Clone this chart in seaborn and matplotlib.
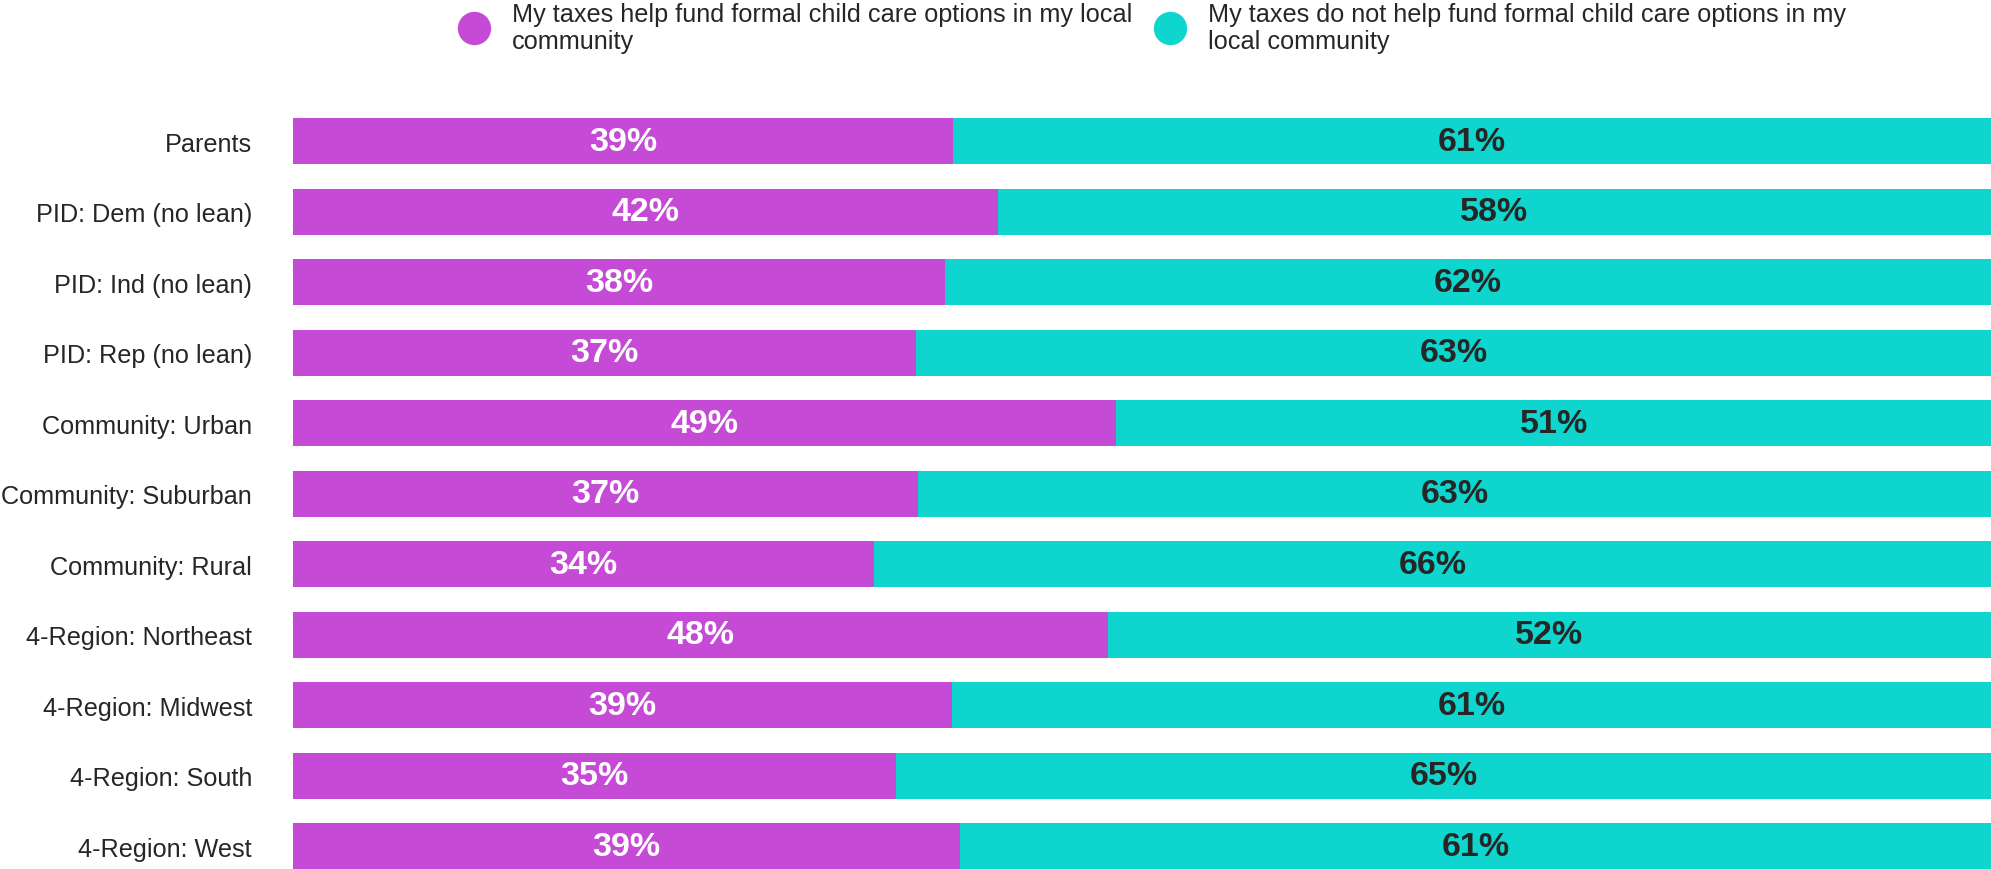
import matplotlib
matplotlib.use('Agg')
import matplotlib.pyplot as plt
from matplotlib.lines import Line2D
import seaborn as sns

# Groups (top to bottom)
categories = [
    "Parents",
    "PID: Dem (no lean)",
    "PID: Ind (no lean)",
    "PID: Rep (no lean)",
    "Community: Urban",
    "Community: Suburban",
    "Community: Rural",
    "4-Region: Northeast",
    "4-Region: Midwest",
    "4-Region: South",
    "4-Region: West",
]

# Share (%)
help_share = [38.9, 41.5, 38.4, 36.7, 48.5, 36.8, 34.2, 48.0, 38.8, 35.5, 39.3]
not_help_share = [61.1, 58.5, 61.6, 63.3, 51.5, 63.2, 65.8, 52.0, 61.2, 64.5, 60.7]

# Labels as printed on the bars
help_labels = ["39%", "42%", "38%", "37%", "49%", "37%", "34%", "48%", "39%", "35%", "39%"]
not_help_labels = ["61%", "58%", "62%", "63%", "51%", "63%", "66%", "52%", "61%", "65%", "61%"]

series_names = [
    "My taxes help fund formal child care options in my local\ncommunity",
    "My taxes do not help fund formal child care options in my\nlocal community",
]

PURPLE = "#C54BD7"
TEAL = "#0ED6CE"
DARK = "#262626"

sns.set_style("white")
plt.rcParams['font.family'] = ['Liberation Sans', 'DejaVu Sans']

fig = plt.figure(figsize=(19.91, 8.70), dpi=100)
ax = fig.add_axes([0.1471, 0.0, 0.8529, 0.877])

totals = [h + n for h, n in zip(help_share, not_help_share)]

# full-length teal bar, purple drawn on top of it
sns.barplot(x=totals, y=categories, color=TEAL, width=0.65, saturation=1,
            orient="h", linewidth=0, ax=ax)
sns.barplot(x=help_share, y=categories, color=PURPLE, width=0.65, saturation=1,
            orient="h", linewidth=0, ax=ax)

for i, (h, n) in enumerate(zip(help_share, not_help_share)):
    ax.text(h / 2, i, help_labels[i], ha='center', va='center',
            color='white', fontsize=24.5, fontweight='bold')
    ax.text(h + n / 2, i, not_help_labels[i], ha='center', va='center',
            color=DARK, fontsize=24.5, fontweight='bold')

ax.set_xlim(0, 100)
ax.set_ylim(10.325, -0.5)
ax.set_xlabel("")
ax.set_ylabel("")
ax.set_xticks([])
ax.tick_params(axis='y', length=0, pad=29.5, labelsize=18.2, labelcolor=DARK)
sns.despine(ax=ax, left=True, bottom=True)

handles = [
    Line2D([], [], marker='o', linestyle='none', markersize=23,
           markerfacecolor=PURPLE, markeredgecolor=PURPLE),
    Line2D([], [], marker='o', linestyle='none', markersize=23,
           markerfacecolor=TEAL, markeredgecolor=TEAL),
]
leg = fig.legend(handles, series_names, loc='upper left',
                 bbox_to_anchor=(0.2317, 0.997), ncol=2, frameon=False,
                 fontsize=18.2, handlelength=1.0, handletextpad=1.0,
                 columnspacing=1.0, borderpad=0, borderaxespad=0)
for t in leg.get_texts():
    t.set_color(DARK)
    t.set_linespacing(1.18)

plt.savefig("out.png", dpi=100)
plt.close()
